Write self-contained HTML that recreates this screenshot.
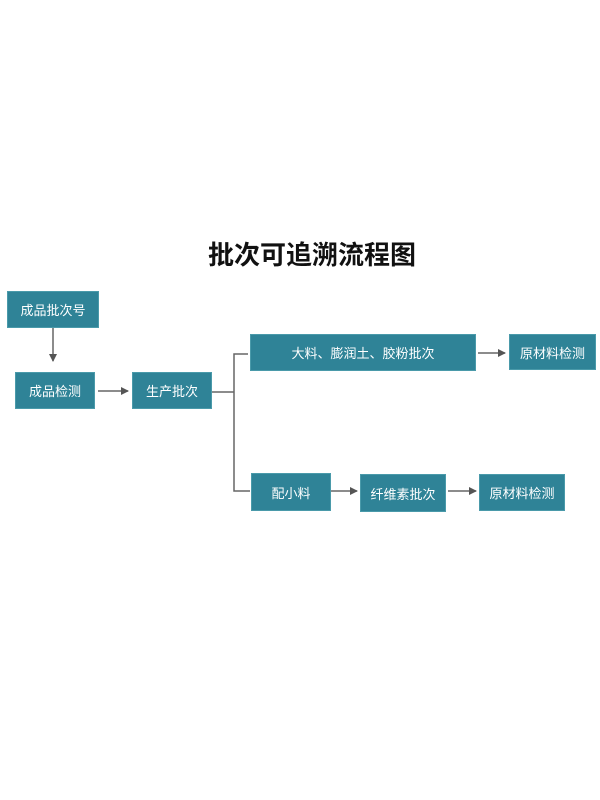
<!DOCTYPE html>
<html><head><meta charset="utf-8"><style>
body{margin:0;width:600px;height:800px;background:#fff;position:relative;font-family:"Liberation Sans","Noto Sans CJK SC",sans-serif;overflow:hidden}
.b{position:absolute;background:#2f8397;color:#fff;font-size:13px;display:flex;align-items:center;justify-content:center;border:1px solid #4a9aaa;box-sizing:border-box}
.t{position:absolute;left:0;width:624px;top:235px;text-align:center;font-size:26px;font-weight:bold;color:#111}
svg{position:absolute;left:0;top:0}
</style></head><body>
<div class="t">批次可追溯流程图</div>
<svg width="600" height="800">
<defs><marker id="a" markerWidth="8" markerHeight="8" refX="7" refY="4" orient="auto" markerUnits="userSpaceOnUse"><path d="M0,0L8,4L0,8z" fill="#555"/></marker></defs>
<g stroke="#666" stroke-width="1.5" fill="none">
<line x1="53" y1="328" x2="53" y2="361" marker-end="url(#a)"/>
<line x1="98" y1="391" x2="128" y2="391" marker-end="url(#a)"/>
<polyline points="212,392 234,392"/>
<polyline points="248,354 234,354 234,491 250,491"/>
<line x1="478" y1="353" x2="505" y2="353" marker-end="url(#a)"/>
<line x1="331" y1="491" x2="357" y2="491" marker-end="url(#a)"/>
<line x1="448" y1="491" x2="476" y2="491" marker-end="url(#a)"/>
</g></svg>
<div class="b" style="left:7px;top:291px;width:92px;height:37px">成品批次号</div>
<div class="b" style="left:15px;top:372px;width:80px;height:37px">成品检测</div>
<div class="b" style="left:132px;top:372px;width:80px;height:37px">生产批次</div>
<div class="b" style="left:250px;top:334px;width:226px;height:37px">大料、膨润土、胶粉批次</div>
<div class="b" style="left:509px;top:334px;width:87px;height:36px">原材料检测</div>
<div class="b" style="left:251px;top:473px;width:80px;height:38px">配小料</div>
<div class="b" style="left:360px;top:474px;width:86px;height:38px">纤维素批次</div>
<div class="b" style="left:479px;top:474px;width:86px;height:37px">原材料检测</div>
</body></html>
